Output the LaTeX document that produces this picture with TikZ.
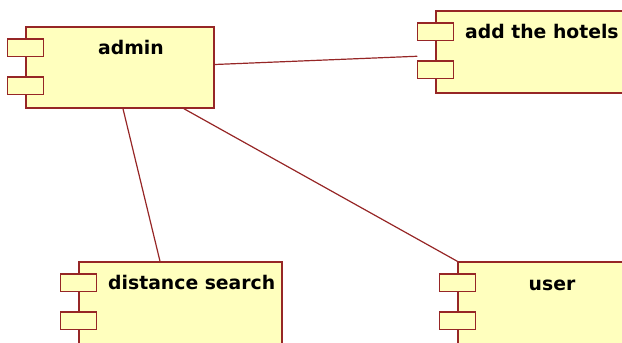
\documentclass[tikz,border=0pt]{standalone}
\usepackage{fontspec}
\setmainfont{DejaVu Sans}
\usepackage{tikz}
\usetikzlibrary{positioning}

\definecolor{compline}{RGB}{150,38,38}
\definecolor{compfill}{RGB}{255,255,190}

\tikzset{
  comp/.style={draw=compline, fill=compfill, line width=1.5pt, inner sep=0pt},
  port/.style={comp, minimum width=36pt, minimum height=17.5pt},
  lbl/.style={font=\fontsize{18.8}{21}\selectfont\bfseries, inner sep=0pt},
  link/.style={draw=compline, line width=1.2pt}
}

\begin{document}
\begin{tikzpicture}[x=1pt,y=-1pt]
    \useasboundingbox (0,0) rectangle (622,343);
    \clip (0,0) rectangle (622,343);
    % components
    \node[comp, minimum width=188pt, minimum height=81pt] (admin) at (120,67.5) {};
    \node[comp, minimum width=224pt, minimum height=82pt] (hotels) at (548,52) {};
    \node[comp, minimum width=203pt, minimum height=98pt] (search) at (180.5,311) {};
    \node[comp, minimum width=202pt, minimum height=98pt] (user) at (559,311) {};
    % the two ports on each
    \foreach \c in {admin,hotels,search,user} {
        \node[port] (\c-p1) at ([yshift=-21.5pt]\c.north west) {};
        \node[port] (\c-p2) at ([yshift=-59.5pt]\c.north west) {};
    }
    % names
    \node[lbl, anchor=base] (admin-name) at (131,54) {admin};
    \node[lbl, anchor=base west] (hotels-name) at (465,38) {add the hotels};
    \node[lbl, anchor=base west] (search-name) at (108,289) {distance search};
    \node[lbl, anchor=base] (user-name) at (552,290) {user};
    % links
    \coordinate (hotels-in) at ([xshift=-18pt,yshift=-46pt]hotels.north west);
    \draw[link] ([yshift=3pt]admin.east) -- (hotels-in);
    \draw[link] ([xshift=3pt]admin.south) -- ([xshift=-20.5pt]search.north);
    \draw[link] ([xshift=64pt]admin.south) -- (user.north west);
\end{tikzpicture}
\end{document}
